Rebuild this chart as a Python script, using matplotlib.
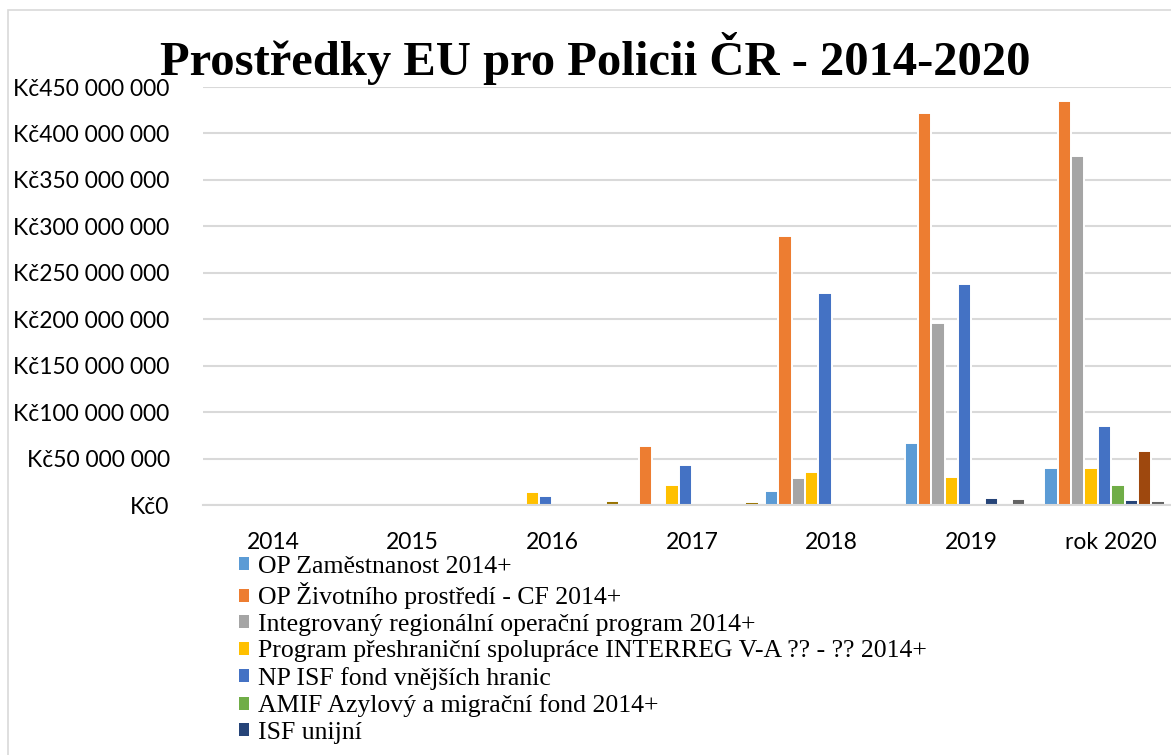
import matplotlib
matplotlib.use("Agg")
import matplotlib.pyplot as plt
import numpy as np
from matplotlib.patches import Patch, Rectangle

categories = ["2014", "2015", "2016", "2017", "2018", "2019", "rok 2020"]

series_names = [
    "OP Zaměstnanost 2014+",
    "OP Životního prostředí - CF 2014+",
    "Integrovaný regionální operační program 2014+",
    "Program přeshraniční spolupráce INTERREG V-A ?? - ?? 2014+",
    "NP ISF fond vnějších hranic",
    "AMIF Azylový a migrační fond 2014+",
    "ISF unijní",
    "Série 8",
    "Série 9",
    "Série 10",
]

# values in millions CZK
op_zamestnanost = [0, 0, 0, 0, 15.4, 66.7, 40.1]
op_zivotni = [0, 0, 0, 63.8, 289.6, 421.8, 434.7]
irop = [0, 0, 0, 0, 29.4, 195.7, 375.6]
interreg = [0, 0, 14.3, 21.5, 35.8, 30.4, 40.1]
np_isf_hranice = [0, 0, 9.7, 43.3, 228.0, 237.7, 85.6]
amif = [0, 0, 0, 1.7, 1.5, 1.2, 21.5]
isf_unijni = [0, 0, 0, 0, 0, 7.5, 5.7]
serie8 = [0, 0, 0, 0, 0, 0, 58.4]
serie9 = [0, 0, 0, 0, 0, 6.8, 5.0]
serie10 = [0, 0, 4.6, 3.5, 0.8, 0, 0]

series_values = [op_zamestnanost, op_zivotni, irop, interreg, np_isf_hranice,
                 amif, isf_unijni, serie8, serie9, serie10]

colors = ["#5B9BD5", "#ED7D31", "#A5A5A5", "#FFC000", "#4472C4",
          "#70AD47", "#264478", "#9E480E", "#636363", "#997300"]

y_ticks = np.arange(0, 450_000_001, 50_000_000)


def fmt(v):
    v = int(v)
    if v == 0:
        return "Kč0"
    return "Kč" + f"{v:,}".replace(",", " ")


W, H = 1171, 755
fig = plt.figure(figsize=(W / 100, H / 100), dpi=100)
fig.patch.set_facecolor("white")

# chart border
fig.add_artist(Rectangle((8 / W, -0.01), 1.2, (H - 10) / H + 0.01,
                         transform=fig.transFigure, fill=False,
                         edgecolor="#D9D9D9", linewidth=1.2))

left, right = 203, 1181
top, bottom = 87, 505.3
ax = fig.add_axes([left / W, (H - bottom) / H, (right - left) / W, (bottom - top) / H])

n = len(series_values)
x = np.arange(len(categories))
pitch = 0.0957
for i, (vals, c, name) in enumerate(zip(series_values, colors, series_names)):
    ax.bar(x + (i - (n - 1) / 2) * pitch, np.array(vals) * 1e6, width=pitch,
           color=c, edgecolor="white", linewidth=1.4, label=name, zorder=3)

ax.set_xlim(-0.5, len(categories) - 0.5)
ax.set_ylim(0, 450_000_000)
ax.set_yticks(y_ticks)
ax.set_yticklabels([fmt(v) for v in y_ticks])
ax.set_xticks(x)
ax.set_xticklabels(categories)
ax.yaxis.grid(True, color="#D9D9D9", linewidth=1.5, zorder=0)
for s in ["top", "right", "left"]:
    ax.spines[s].set_visible(False)
ax.spines["bottom"].set_color("#D9D9D9")
ax.spines["bottom"].set_linewidth(1.5)
ax.spines["bottom"].set_zorder(4)
ax.tick_params(axis="y", length=0, pad=24, labelsize=16.5, labelcolor="black")
ax.tick_params(axis="x", length=0, pad=19, labelsize=16.5, labelcolor="black")
for lab in ax.get_xticklabels() + ax.get_yticklabels():
    lab.set_fontfamily("Lato")

fig.text(595 / W, 1 - 75 / H, "Prostředky EU pro Policii ČR - 2014-2020",
         ha="center", va="baseline", fontsize=35, fontweight="bold",
         fontfamily="Liberation Serif")

handles = [Patch(facecolor=colors[i], edgecolor="none") for i in range(7)]
fig.legend(handles, series_names[:7], loc="upper left",
           bbox_to_anchor=(239 / W, 1 - 556 / H), frameon=False,
           prop={"family": "Liberation Serif", "size": 18.5},
           handlelength=0.4, handleheight=0.4, handletextpad=0.33,
           labelspacing=0.175, borderpad=0, borderaxespad=0)

fig.savefig("out.png", dpi=100)
